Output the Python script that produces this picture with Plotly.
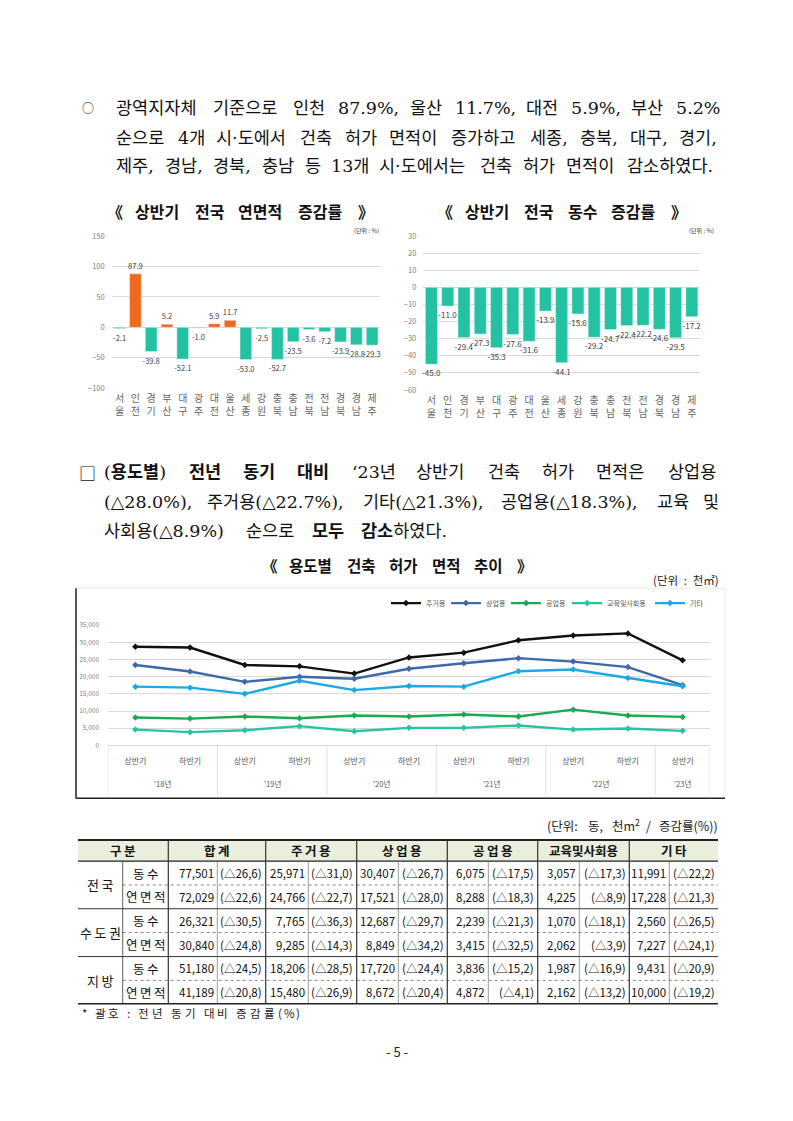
import re
import plotly.graph_objects as go

W, H = 793, 1121
def X(p): return p / W
def Y(p): return 1 - p / H

FONT = "Noto Sans CJK KR"
SERIF = "DejaVu Serif, Noto Sans CJK KR"

# ---------------- data ----------------
REGIONS = ["서울", "인천", "경기", "부산", "대구", "광주", "대전", "울산", "세종",
           "강원", "충북", "충남", "전북", "전남", "경북", "경남", "제주"]
AREA_RATE = [-2.1, 87.9, -39.8, 5.2, -52.1, -1.0, 5.9, 11.7, -53.0,
             -2.5, -52.7, -23.5, -3.6, -7.2, -23.9, -28.8, -29.3]
COUNT_RATE = [-45.0, -11.0, -29.4, -27.3, -35.3, -27.6, -31.6, -13.9, -44.1,
              -15.6, -29.2, -24.7, -22.4, -22.2, -24.6, -29.5, -17.2]

HALVES = ["상반기", "하반기", "상반기", "하반기", "상반기", "하반기",
          "상반기", "하반기", "상반기", "하반기", "상반기"]
YEARS = ["'18년", "'19년", "'20년", "'21년", "'22년", "'23년"]

RES = [28700, 28500, 23400, 23000, 20900, 25600, 27000, 30600, 32000, 32600, 24766]
COM = [23400, 21500, 18500, 20000, 19400, 22300, 23900, 25400, 24400, 22800, 17521]
IND = [8100, 7800, 8400, 7900, 8700, 8400, 9000, 8400, 10400, 8700, 8288]
EDU = [4600, 3850, 4400, 5600, 4100, 5100, 5100, 5800, 4600, 4900, 4225]
ETC = [17100, 16800, 15000, 18800, 16100, 17300, 17100, 21600, 22100, 19600, 17228]
SERIES_NAMES = ["주거용", "상업용", "공업용", "교육및사회용", "기타"]

TABLE_GROUPS = ["전국", "수도권", "지방"]
TABLE_SUBS = ["동수", "연면적"]
TABLE_COLS = ["합계", "주거용", "상업용", "공업용", "교육및사회용", "기타"]
TABLE_VALUES = [
    [77501, 25971, 30407, 6075, 3057, 11991],
    [72029, 24766, 17521, 8288, 4225, 17228],
    [26321, 7765, 12687, 2239, 1070, 2560],
    [30840, 9285, 8849, 3415, 2062, 7227],
    [51180, 18206, 17720, 3836, 1987, 9431],
    [41189, 15480, 8672, 4872, 2162, 10000],
]
TABLE_RATES = [
    [26.6, 31.0, 26.7, 17.5, 17.3, 22.2],
    [22.6, 22.7, 28.0, 18.3, 8.9, 21.3],
    [30.5, 36.3, 29.7, 21.3, 18.1, 26.5],
    [24.8, 14.3, 34.2, 32.5, 3.9, 24.1],
    [24.5, 28.5, 24.4, 15.2, 16.9, 20.9],
    [20.8, 26.9, 20.4, 4.1, 13.2, 19.2],
]

# ---------------- helpers ----------------
annotations = []
shapes = []

def ann(text, x, y, size, color="#111111", xanchor="left", xref="paper", family=FONT):
    annotations.append(dict(
        text=text, x=(X(x) if xref == "paper" else x), y=Y(y), xref=xref, yref="paper",
        xanchor=xanchor, yanchor="middle", showarrow=False,
        font=dict(family=family, size=size, color=color)))

SANS_W = {"d": 0.555, ".": 0.27, ",": 0.27, ":": 0.27, "%": 0.88, "(": 0.33, ")": 0.33,
          "'": 0.24, "‘": 0.24, "·": 0.27, "*": 0.45, " ": 0.25, "/": 0.35}
SERIF_W = {"d": 0.636, ".": 0.318, ",": 0.318, ":": 0.337, "%": 0.948, "(": 0.39, ")": 0.39,
           "'": 0.27, "‘": 0.318, "·": 0.318, "*": 0.5, " ": 0.318, "/": 0.337}

def text_w(s, size, table=SANS_W):
    s = re.sub(r"<[^>]+>", "", s)
    w = 0.0
    for ch in s:
        o = ord(ch)
        if 0xAC00 <= o <= 0xD7A3 or ch in "《》△□○㎡":
            w += 1.0
        elif ch.isdigit():
            w += table["d"]
        elif ch in table:
            w += table[ch]
        else:
            w += 0.55
    return w * size

def place_words(words, x0, x1, y, size, color="#111111", family=FONT):
    table = SERIF_W if family == SERIF else SANS_W
    widths = [text_w(w, size, table) for w in words]
    gap = (x1 - x0 - sum(widths)) / (len(words) - 1)
    x = x0
    for wd, ww in zip(words, widths):
        if wd.strip():
            ann(wd, x, y, size, color=color, family=family)
        x += ww + gap

def place_chars(text, x0, x1, y, size, color="#111111", family=FONT):
    place_words(list(text), x0, x1, y, size, color=color, family=family)

def line(x0, y0, x1, y1, color="#222222", width=1.0, dash="solid"):
    shapes.append(dict(type="line", xref="paper", yref="paper",
                       x0=X(x0), x1=X(x1), y0=Y(y0), y1=Y(y1),
                       line=dict(color=color, width=width, dash=dash)))

def spaced(s):
    return "\u2009".join(s)

fig = go.Figure()

# ---------------- paragraph 1 ----------------
PS = 17.5
ann("○", 88, 103, 12, xanchor="center")
place_words(["광역지자체", "기준으로", "인천", "87.9%,", "울산", "11.7%,", "대전", "5.9%,", "부산", "5.2%"],
            114, 718, 103, PS, family=SERIF)
place_words(["순으로", "4개", "시·도에서", "건축", "허가", "면적이", "증가하고", "세종,", "충북,", "대구,", "경기,"],
            114, 718, 133, PS, family=SERIF)
place_words(["제주,", "경남,", "경북,", "충남", "등", "13개", "시·도에서는", "건축", "허가", "면적이", "감소하였다."],
            114, 718, 162, PS, family=SERIF)

# ---------------- bar chart titles ----------------
place_words(["<b>《</b>", "<b>상반기</b>", "<b>전국</b>", "<b>연면적</b>", "<b>증감률</b>", "<b>》</b>"],
            105, 372, 207, 16)
place_words(["<b>《</b>", "<b>상반기</b>", "<b>전국</b>", "<b>동수</b>", "<b>증감률</b>", "<b>》</b>"],
            435, 685, 207, 16)
ann("(단위 : %)", 381, 227, 6, color="#333333", xanchor="right")
ann("(단위 : %)", 716, 227, 6, color="#333333", xanchor="right")

ORANGE = "#EE6A1E"
TEAL = "#22C2A3"
cat_text = [r[0] + "<br>" + r[1] for r in REGIONS]

fig.add_trace(go.Bar(
    x=REGIONS, y=AREA_RATE, xaxis="x", yaxis="y",
    marker=dict(color=[ORANGE if v > 0 else TEAL for v in AREA_RATE]),
    text=[f"{v:.1f}" for v in AREA_RATE], textposition="outside",
    constraintext="none", cliponaxis=False,
    textfont=dict(family=FONT, size=7.5, color="#404040"), showlegend=False))
fig.add_trace(go.Bar(
    x=REGIONS, y=COUNT_RATE, xaxis="x2", yaxis="y2",
    marker=dict(color=TEAL),
    text=[f"{v:.1f}" for v in COUNT_RATE], textposition="outside",
    constraintext="none", cliponaxis=False,
    textfont=dict(family=FONT, size=8, color="#404040"), showlegend=False))

# ---------------- paragraph 2 ----------------
ann("□", 87, 471, 17, xanchor="center")
place_words(["(<b>용도별</b>)", "<b>전년</b>", "<b>동기</b>", "<b>대비</b>", "‘23년", "상반기", "건축",
             "허가", "면적은", "상업용"], 102, 718, 471, PS, family=SERIF)
place_words(["(△28.0%),", "주거용(△22.7%),", "기타(△21.3%),", "공업용(△18.3%),", "교육", "및"],
            102, 718, 501, PS, family=SERIF)
place_words(["사회용(△8.9%)", "순으로", "<b>모두</b>", "<b>감소</b>하였다."], 102, 452, 530, PS, family=SERIF)

place_words(["<b>《</b>", "<b>용도별</b>", "<b>건축</b>", "<b>허가</b>", "<b>면적</b>", "<b>추이</b>", "<b>》</b>"],
            260, 530, 565, 15.5)
ann("(단위\u2002:\u2002천㎡)", 721, 580, 11.5, color="#222222", xanchor="right")

# ---------------- line chart ----------------
LINE_COLORS = ["#111111", "#3E68A8", "#1DA851", "#27C4A1", "#1CA8E4"]
LEG_X = [386, 446, 506, 567, 650]
idx = list(range(len(HALVES)))
for k, (name, vals) in enumerate(zip(SERIES_NAMES, [RES, COM, IND, EDU, ETC])):
    fig.add_trace(go.Scatter(
        x=idx, y=vals, name=name, xaxis="x3", yaxis="y3", mode="lines+markers",
        line=dict(color=LINE_COLORS[k], width=2.4),
        marker=dict(color=LINE_COLORS[k], size=5, symbol="diamond"),
        legend="legend" if k == 0 else f"legend{k+1}"))

# chart frame
shapes.append(dict(type="rect", xref="paper", yref="paper", x0=X(76), x1=X(725), y0=Y(800), y1=Y(588),
                   line=dict(color="#E3E3E3", width=0.8)))
line(76, 588, 76, 800, color="#222222", width=1.5)
line(76, 800, 725, 800, color="#222222", width=1.5)

# group dividers and year labels
for xv in [-0.5, 1.5, 3.5, 5.5, 7.5, 9.5, 10.5]:
    shapes.append(dict(type="line", xref="x3", yref="paper", x0=xv, x1=xv, y0=Y(747), y1=Y(797),
                       line=dict(color="#D9D9D9", width=0.8)))
for yr, xc in zip(YEARS, [0.5, 2.5, 4.5, 6.5, 8.5, 10]):
    ann(yr, xc, 785, 7.5, color="#595959", xanchor="center", xref="x3")

# ---------------- table ----------------
place_words(["(단위:", "동,", "천m<sup>2</sup>", "/", "증감률(%))"], 545, 718, 828, 12.5, color="#222222")

TL, TR = 78, 718
C_SUB, C_GRP = 122.7, 168.3
SPLITS = [217.3, 308.3, 398.3, 488.3, 579.3, 669.3]
GROUPS = [168.3, 265.7, 356.7, 447.3, 537.7, 629.3, 718.3]
ROW_Y = [863.5, 887.7, 911.7, 935.7, 960.0, 984.0, 1007.7]

shapes.append(dict(type="rect", xref="paper", yref="paper", x0=X(TL), x1=X(TR), y0=Y(863.5), y1=Y(842.3),
                   fillcolor="#E9EFDC", line=dict(width=0), layer="below"))
line(TL, 842.3, TR, 842.3, width=2.0)
line(TL, 863.5, TR, 863.5, width=1.2)
for i, yv in enumerate(ROW_Y[1:]):
    if i % 2 == 0:
        line(C_SUB, yv, TR, yv, color="#666666", width=0.8, dash="dot")
    elif yv < 1000:
        line(TL, yv, TR, yv, color="#333333", width=1.0)
line(TL, 1007.7, TR, 1007.7, width=1.5)
for gx in GROUPS[:-1]:
    line(gx, 842.3, gx, 1007.7, color="#333333", width=1.2)
for sx in SPLITS:
    line(sx, 863.5, sx, 1007.7, color="#555555", width=0.6)
line(C_SUB, 863.5, C_SUB, 1007.7, color="#333333", width=0.8)

TS = 11.5
ann("<b>" + spaced("구분") + "</b>", (TL + C_GRP) / 2, 853, 12.5, xanchor="center")
for c, name in enumerate(TABLE_COLS):
    label = name if len(name) > 3 else spaced(name)
    ann(f"<b>{label}</b>", (GROUPS[c] + GROUPS[c + 1]) / 2, 853, 12.5, xanchor="center")
for g, gname in enumerate(TABLE_GROUPS):
    ann(spaced(gname), (TL + C_SUB) / 2, (ROW_Y[2 * g] + ROW_Y[2 * g + 2]) / 2, 13, xanchor="center")
for r in range(6):
    yc = (ROW_Y[r] + ROW_Y[r + 1]) / 2
    ann(spaced(TABLE_SUBS[r % 2]), (C_SUB + C_GRP) / 2, yc, 12.5, xanchor="center")
    for c in range(6):
        ann(f"{TABLE_VALUES[r][c]:,}", SPLITS[c] - 1.5, yc, TS, xanchor="right")
        rate = f"(△{TABLE_RATES[r][c]:.1f})".replace(".", ",")
        ann(rate, GROUPS[c + 1] - 1.5, yc, TS, xanchor="right")

place_chars("* 괄호 : 전년 동기 대비 증감률(%)", 80, 298, 1017, 11.5, color="#222222")
ann("- 5 -", 397, 1056, 13, color="#222222", xanchor="center")

# ---------------- layout ----------------
tick_grey = "#7F7F7F"
grid = "#D9D9D9"
layout = dict(
    width=W, height=H, margin=dict(l=0, r=0, t=0, b=0),
    paper_bgcolor="white", plot_bgcolor="white",
    font=dict(family=FONT), bargap=0.26,
    annotations=annotations, shapes=shapes,
    xaxis=dict(domain=[X(111.7), X(380)], type="category", tickvals=REGIONS, ticktext=cat_text,
               tickfont=dict(size=10, color="#666666"), showgrid=False, showline=False, ticks="",
               ticklabelstandoff=3, fixedrange=True),
    yaxis=dict(domain=[Y(386), Y(232.3)], range=[-100, 150], dtick=50, gridcolor=grid, gridwidth=0.8,
               zeroline=False, tickfont=dict(size=7.5, color=tick_grey), ticklabelstandoff=6),
    xaxis2=dict(domain=[X(423.3), X(700)], type="category", tickvals=REGIONS, ticktext=cat_text,
                tickfont=dict(size=10, color="#666666"), showgrid=False, showline=False, ticks="",
                ticklabelstandoff=3, anchor="y2"),
    yaxis2=dict(domain=[Y(387.7), Y(232.3)], range=[-60, 30], dtick=10, gridcolor=grid, gridwidth=0.8,
                zeroline=False, tickfont=dict(size=7.5, color=tick_grey), ticklabelstandoff=6, anchor="x2"),
    xaxis3=dict(domain=[X(108), X(710)], range=[-0.5, 10.5], tickvals=idx, ticktext=HALVES,
                tickfont=dict(size=8, color="#595959"), showgrid=False, showline=True, linecolor=grid,
                ticks="", ticklabelstandoff=8, zeroline=False, anchor="y3"),
    yaxis3=dict(domain=[Y(746.7), Y(625.3)], range=[0, 35000], dtick=5000, tickformat=",",
                gridcolor=grid, gridwidth=0.8, zeroline=False,
                tickfont=dict(size=6.5, color=tick_grey), ticklabelstandoff=8, anchor="x3"),
)
for k in range(5):
    key = "legend" if k == 0 else f"legend{k+1}"
    layout[key] = dict(x=X(LEG_X[k]), y=Y(603), xanchor="left", yanchor="middle", orientation="h",
                       font=dict(family=FONT, size=7, color="#595959"), bgcolor="rgba(0,0,0,0)",
                       itemwidth=30)
fig.update_layout(**layout)

fig.write_html("out.html", config={"displayModeBar": False},
               post_script="document.body.style.margin='0';document.body.style.overflow='hidden';")
